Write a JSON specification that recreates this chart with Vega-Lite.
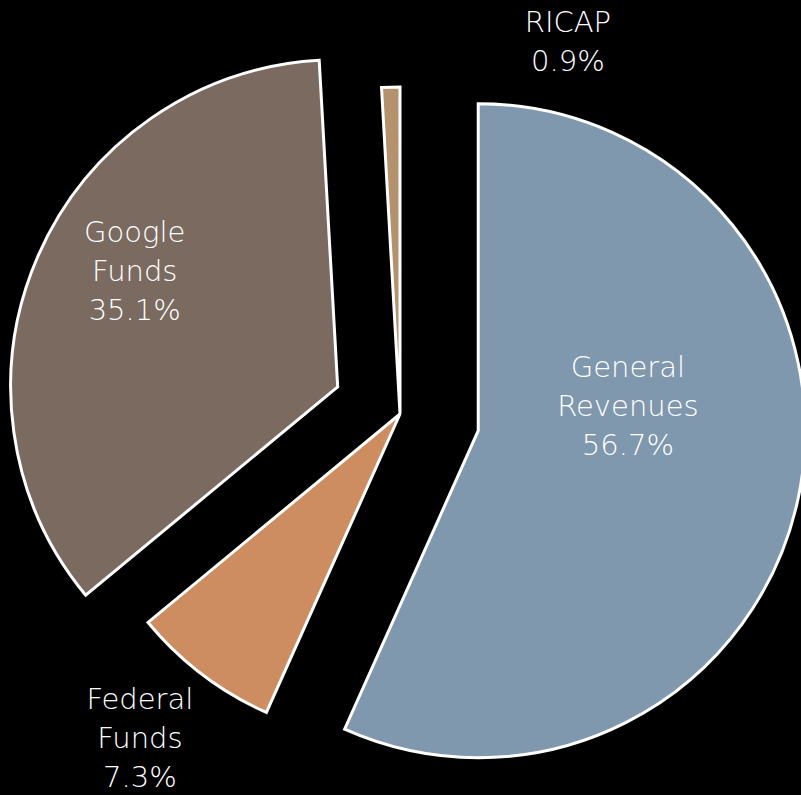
{
  "$schema": "https://vega.github.io/schema/vega-lite/v6.json",
  "width": 801,
  "height": 795,
  "autosize": "none",
  "padding": 0,
  "background": "#000000",
  "config": {"view": {"stroke": null}},
  "data": {
    "values": [
      {"order": 1, "category": "General Revenues", "value": 56.7},
      {"order": 2, "category": "Federal Funds", "value": 7.3},
      {"order": 3, "category": "Google Funds", "value": 35.1},
      {"order": 4, "category": "RICAP", "value": 0.9}
    ]
  },
  "transform": [
    {"window": [{"op": "sum", "field": "value", "as": "cum"}], "sort": [{"field": "order"}], "frame": [null, 0]},
    {"joinaggregate": [{"op": "sum", "field": "value", "as": "total"}]},
    {"calculate": "(datum.cum - datum.value) / datum.total * 2 * PI", "as": "a0"},
    {"calculate": "datum.cum / datum.total * 2 * PI", "as": "a1"},
    {"calculate": "(datum.a0 + datum.a1) / 2", "as": "mid"},
    {"calculate": "datum.category == 'General Revenues' ? 80 : datum.category == 'Google Funds' ? 68 : 0", "as": "explode"},
    {"calculate": "sin(datum.mid) * datum.explode", "as": "cx"},
    {"calculate": "-cos(datum.mid) * datum.explode", "as": "cy"},
    {"calculate": "datum.category == 'General Revenues' ? 88.2 : datum.category == 'Google Funds' ? 298.2 : datum.category == 'Federal Funds' ? 218.7 : 24.3", "as": "ladeg"},
    {"calculate": "datum.category == 'General Revenues' ? 228 : datum.category == 'Google Funds' ? 301 : datum.category == 'Federal Funds' ? 416 : 408", "as": "lr"},
    {"calculate": "indexof(datum.category, ' ') >= 0 ? 3 : 2", "as": "nlines"},
    {"calculate": "sin(datum.ladeg * PI / 180) * datum.lr", "as": "lx"},
    {"calculate": "-cos(datum.ladeg * PI / 180) * datum.lr - (datum.nlines - 1) * 19.5", "as": "ly"},
    {"calculate": "replace(datum.category, ' ', '\\n') + '\\n' + format(datum.value, '.1f') + '%'", "as": "label"}
  ],
  "layer": [
    {
      "mark": {"type": "arc", "outerRadius": 327, "stroke": "#ffffff", "strokeWidth": 3, "strokeJoin": "miter"},
      "encoding": {
        "theta": {"field": "a0", "type": "quantitative", "scale": null},
        "theta2": {"field": "a1"},
        "x": {"field": "cx", "type": "quantitative", "scale": {"domain": [-400, 401], "nice": false, "zero": false}, "axis": null},
        "y": {"field": "cy", "type": "quantitative", "scale": {"domain": [-414, 381], "nice": false, "zero": false, "reverse": true}, "axis": null},
        "color": {
          "field": "category",
          "type": "nominal",
          "scale": {"domain": ["General Revenues", "Federal Funds", "Google Funds", "RICAP"], "range": ["#8098AE", "#CD8D60", "#7A6A60", "#B5926E"]},
          "legend": null
        }
      }
    },
    {
      "mark": {"type": "text", "font": "DejaVu Sans", "fontSize": 29, "fontWeight": 300, "lineHeight": 39, "lineBreak": "\n", "align": "center", "baseline": "middle", "color": "#ffffff"},
      "encoding": {
        "x": {"field": "lx", "type": "quantitative"},
        "y": {"field": "ly", "type": "quantitative"},
        "text": {"field": "label"}
      }
    }
  ]
}
